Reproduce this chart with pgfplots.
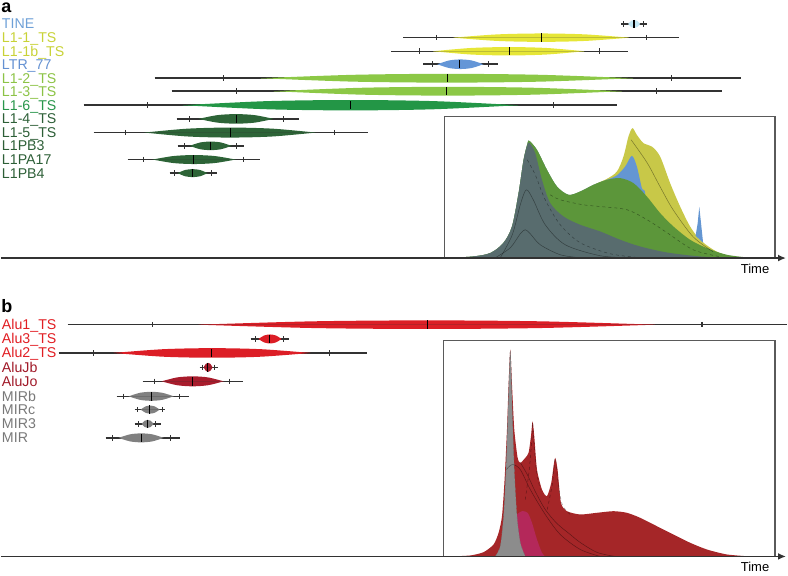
\documentclass[border=0pt]{standalone}
\usepackage{pgfplots}
\pgfplotsset{compat=1.18}
\usepackage{fontspec}
\setmainfont{Liberation Sans}
\usetikzlibrary{arrows.meta}

\definecolor{whiskc}{RGB}{50,50,50}
\definecolor{boxc}{RGB}{90,90,90}
% label colours
\definecolor{labTINE}{RGB}{110,160,215}
\definecolor{labY}{RGB}{200,210,55}
\definecolor{labLTR}{RGB}{100,145,210}
\definecolor{labLG}{RGB}{140,195,70}
\definecolor{labG}{RGB}{40,150,75}
\definecolor{labDG}{RGB}{45,95,55}
\definecolor{labR}{RGB}{225,30,35}
\definecolor{labDR}{RGB}{160,25,40}
\definecolor{labGr}{RGB}{120,120,120}
% lens colours
\definecolor{lensTINE}{RGB}{195,232,245}
\definecolor{lensY}{RGB}{230,230,55}
\definecolor{lensLTR}{RGB}{100,150,215}
\definecolor{lensLG}{RGB}{140,200,70}
\definecolor{lensG}{RGB}{35,150,70}
\definecolor{lensDG}{RGB}{45,100,55}
\definecolor{lensR}{RGB}{220,30,38}
\definecolor{lensDR}{RGB}{168,28,44}
\definecolor{lensGr}{RGB}{128,128,128}
% density colours
\definecolor{dSlate}{RGB}{88,108,110}
\definecolor{dGreen}{RGB}{92,150,58}
\definecolor{dBlue}{RGB}{100,150,210}
\definecolor{dYellow}{RGB}{200,200,72}
\definecolor{dRed}{RGB}{165,38,40}
\definecolor{dMag}{RGB}{180,40,90}
\definecolor{dGray}{RGB}{140,140,140}

\pgfplotsset{
  whisk/.style={draw=whiskc, line width=1.5pt, mark=none},
  sidetick/.style={only marks, mark=|, mark size=2.8pt, mark options={draw=whiskc, line width=1.2pt}},
  centertick/.style={only marks, mark=|, mark size=4.2pt, mark options={draw=black, line width=1.5pt}},
  inner/.style={draw=black, opacity=0.4, line width=0.5pt, smooth, mark=none},
}
\tikzset{
  lab/.style={anchor=west, inner sep=0pt, text height=10pt, text depth=0pt, font=\fontsize{14.2}{15}\selectfont},
}

\newcommand{\rowc}{black}
% #1 y, #2 whisker left, #3 left tick, #4 lens left, #5 centre tick, #6 lens right, #7 right tick, #8 whisker right, #9 half height
\newcommand{\lensrow}[9]{%
  \pgfmathsetmacro{\xa}{#4+0.25*(#6-#4)}%
  \pgfmathsetmacro{\xm}{0.5*(#4+#6)}%
  \pgfmathsetmacro{\xb}{#4+0.75*(#6-#4)}%
  \pgfmathsetmacro{\yta}{#1-0.78*#9}%
  \pgfmathsetmacro{\yt}{#1-#9}%
  \pgfmathsetmacro{\yba}{#1+0.78*#9}%
  \pgfmathsetmacro{\yb}{#1+#9}%
  \edef\tmp{%
    \noexpand\addplot[whisk] coordinates {(#2,#1) (#8,#1)};
    \noexpand\addplot[fill=\rowc, draw=none, smooth, mark=none] coordinates {(#4,#1) (\xa,\yta) (\xm,\yt) (\xb,\yta) (#6,#1)} -- cycle;
    \noexpand\addplot[fill=\rowc, draw=none, smooth, mark=none] coordinates {(#4,#1) (\xa,\yba) (\xm,\yb) (\xb,\yba) (#6,#1)} -- cycle;
    \noexpand\addplot[sidetick] coordinates {(#3,#1) (#7,#1)};
    \noexpand\addplot[centertick] coordinates {(#5,#1)};
  }\tmp}

\begin{document}
\begin{tikzpicture}
\begin{axis}[
  width=788pt, height=576pt, scale only axis,
  xmin=0, xmax=788, ymin=0, ymax=576, y dir=reverse,
  hide axis, clip=false,
]
\addplot[draw=none, mark=none] coordinates {(0,0) (788,576)};

% ---------------- panel a: density inset ----------------
\addplot[fill=dYellow, draw=none, smooth, mark=none] coordinates {
 (450,258) (473,256.7) (490,253.3) (503,243.3) (511.7,226.7) (518.3,193.3) (523.3,160) (527.3,143.3) (529,141)
 (536.7,150) (546.7,170) (556.7,186.7) (568.3,195) (580,191.7) (593.3,185) (606.7,179) (616.7,171.7) (623.3,156.7)
 (628.3,136.7) (632.3,128.3) (636.7,135) (643.3,143.3) (651.7,146.7) (660,156.7) (670,183.3) (680,206.7)
 (690,226.7) (700,240) (713.3,250) (726.7,256) (740,258)} -- cycle;
\addplot[fill=dBlue, draw=none, mark=none] coordinates {
 (695.5,236) (697.5,224) (699.2,207) (701,224) (703,243)} -- cycle;
\addplot[fill=dBlue, draw=none, smooth, mark=none] coordinates {
 (450,258) (473,256.7) (490,253.3) (503,243.3) (511.7,226.7) (518.3,193.3) (523.3,160) (527.3,143.3) (529,141)
 (536.7,150) (546.7,170) (556.7,186.7) (568.3,195) (580,191.7) (593.3,185) (606.7,180) (616.7,175.5)
 (625,166.7) (631.7,156) (636.7,166.7) (641.7,188.3) (645,196) (642,258)} -- cycle;
\addplot[fill=dGreen, draw=none, smooth, mark=none] coordinates {
 (450,258) (473,256.7) (490,253.3) (503,243.3) (511.7,226.7) (518.3,193.3) (523.3,160) (527.3,143.3) (529,141)
 (536.7,150) (546.7,170) (556.7,186.7) (568.3,195) (580,191.7) (593.3,185) (606.7,180) (620,178.3)
 (633.3,183.3) (646.7,196.7) (660,213.3) (673.3,226.7) (690,240) (706.7,248.3) (726.7,255) (750,258)} -- cycle;
\addplot[fill=dSlate, draw=none, smooth, mark=none] coordinates {
 (450,258) (473,256.7) (490,253.3) (503,243.3) (511.7,226.7) (518.3,193.3) (523.3,160) (527.3,144.5) (529.5,143.5)
 (535,153.3) (541.7,180) (550,203.3) (563.3,216.7) (580,225) (600,231.7) (620,240) (640,246.7) (666.7,252.7)
 (700,256.7) (733,258)} -- cycle;
% component lines
\addplot[inner] coordinates {(495,258) (510,248) (520,234) (525,230) (530,234) (540,245) (560,255) (580,258)};
\addplot[inner] coordinates {(500,258) (512,235) (520,205) (526,190) (533,200) (545,225) (565,245) (600,256) (630,258)};
\addplot[inner, dashed] coordinates {(527,160) (535,175) (545,200) (560,225) (580,243) (610,254) (640,258)};
\addplot[inner, dashed] coordinates {(550,195) (560,200) (583,205) (603,207) (627,210) (647,220) (667,233) (693,250) (720,257)};
\addplot[inner] coordinates {(631,140) (647,163) (660,187) (673,210) (693,237) (713,252)};
% box and time axis
\addplot[draw=boxc, line width=1.1pt, mark=none] coordinates {(444,258) (444,117) (775,117) (775,258)};
\addplot[draw=whiskc, line width=1.6pt, mark=none, -{Latex[length=8pt,width=7pt]}] coordinates {(0,258.3) (786,258.3)};
\node[lab, anchor=center, font=\fontsize{13}{15}\selectfont] at (axis cs:755,268.7) {Time};

% ---------------- panel a: rows ----------------
\node[anchor=base west, inner sep=0pt, text height=10pt, font=\fontsize{18}{18}\selectfont\bfseries] at (axis cs:0.5,13) {a};
\renewcommand{\rowc}{lensTINE}\lensrow{24}{621}{623.5}{628}{634}{640}{643}{647}{4}
\renewcommand{\rowc}{lensY}\lensrow{37.7}{403}{436}{453}{541}{629}{646}{679}{4.2}
\renewcommand{\rowc}{lensY}\lensrow{51.3}{391}{419}{433}{509}{584}{599}{628}{4.2}
\renewcommand{\rowc}{lensLTR}\lensrow{64.3}{423}{432}{437}{459}{483}{488}{498}{4.8}
\renewcommand{\rowc}{lensLG}\lensrow{78.3}{154}{223}{260}{447}{633}{671}{741}{4.4}
\renewcommand{\rowc}{lensLG}\lensrow{91.3}{171}{236}{273}{446}{622}{656}{722}{4.4}
\renewcommand{\rowc}{lensG}\lensrow{105.3}{83}{147}{182}{350}{518}{553}{617}{5.2}
\renewcommand{\rowc}{lensDG}\lensrow{119}{176}{189}{198}{236}{273}{283}{298}{4.8}
\renewcommand{\rowc}{lensDG}\lensrow{132.7}{93}{125}{144}{230}{315}{334}{368}{5}
\renewcommand{\rowc}{lensDG}\lensrow{146}{177}{184}{189}{210}{231}{236}{243}{4.3}
\renewcommand{\rowc}{lensDG}\lensrow{159.7}{127}{143}{152}{193}{235}{243}{259}{4.5}
\renewcommand{\rowc}{lensDG}\lensrow{173.3}{169}{174}{177}{192}{207}{211}{216}{4}
\node[lab, text=labTINE] at (axis cs:1,24) {TINE};
\node[lab, text=labY] at (axis cs:1,37.7) {L1-1\_TS};
\node[lab, text=labY] at (axis cs:1,51.3) {L1-1b\_TS};
\node[lab, text=labLTR] at (axis cs:1,64.3) {LTR\_77};
\node[lab, text=labLG] at (axis cs:1,78.3) {L1-2\_TS};
\node[lab, text=labLG] at (axis cs:1,91.3) {L1-3\_TS};
\node[lab, text=labG] at (axis cs:1,105.3) {L1-6\_TS};
\node[lab, text=labDG] at (axis cs:1,119) {L1-4\_TS};
\node[lab, text=labDG] at (axis cs:1,132.7) {L1-5\_TS};
\node[lab, text=labDG] at (axis cs:1,146) {L1PB3};
\node[lab, text=labDG] at (axis cs:1,159.7) {L1PA17};
\node[lab, text=labDG] at (axis cs:1,173.3) {L1PB4};

% ---------------- panel b: density inset ----------------
\addplot[fill=dRed, draw=none, smooth, tension=0.4, mark=none] coordinates {
 (450,557) (470,556) (483.3,552.7) (493.3,545) (498.3,533.3) (501.7,516.7) (504.3,480) (506.7,430) (508.3,385)
 (510,350) (511.7,385) (514,430) (517.3,458) (520,463.3) (525,458.3) (528.3,453.3) (530.7,436.7) (532.3,421.7)
 (534,436.7) (536.7,470) (541.7,490) (546.7,496.7) (551,483.3) (553.3,466.7) (555,458.3) (557.3,470) (560.7,503.3)
 (566.7,511.7) (580,515) (596.7,513.3) (613.3,511.7) (626.7,513.3) (640,518.3) (656.7,526.7) (673.3,535)
 (690,543.3) (706.7,550) (726.7,555) (750,557)} -- cycle;
\addplot[fill=dMag, draw=none, smooth, tension=0.5, mark=none] coordinates {
 (505,557) (510,522) (516.7,515) (521.7,511.7) (527.3,513.3) (531.7,523.3) (536.7,540) (541.7,553.3) (545,557)} -- cycle;
\addplot[fill=dGray, draw=black!55, dashed, line width=0.4pt, smooth, tension=0.4, mark=none] coordinates {
 (495,557) (500,546.7) (503.3,516.7) (505.7,470) (507.7,413.3) (510,352) (512,413.3) (514,470) (516.7,516.7)
 (520,543.3) (525,557)} -- cycle;
\addplot[inner] coordinates {(520,463) (527,475) (535,492) (545,510) (556.7,524) (570,535) (580,543) (597,553) (615,557)};
\addplot[inner, dashed] coordinates {(525,500) (529,470) (531.5,440) (532.3,423) (533.5,440) (536,470) (540,490)};
\addplot[inner, dashed] coordinates {(547,510) (552,485) (555,459) (557.5,480) (562,505) (570,515)};
\addplot[inner] coordinates {(506,470) (512,465) (520,470) (530,490) (545,515) (560,535) (580,550) (600,557)};
\addplot[draw=boxc, line width=1.1pt, mark=none] coordinates {(443,557) (443,341) (775,341) (775,557)};
\addplot[draw=whiskc, line width=1.6pt, mark=none, -{Latex[length=8pt,width=7pt]}] coordinates {(0,557) (786,557)};
\node[lab, anchor=center, font=\fontsize{13}{15}\selectfont] at (axis cs:755,566.7) {Time};

% ---------------- panel b: rows ----------------
\node[anchor=base west, inner sep=0pt, text height=13pt, font=\fontsize{18}{18}\selectfont\bfseries] at (axis cs:0.5,313.3) {b};
\renewcommand{\rowc}{lensR}\lensrow{325}{67}{152}{198}{427}{655}{702}{787}{4.3}
\renewcommand{\rowc}{lensR}\lensrow{339.3}{250}{255}{258}{269}{281}{283}{288}{4.5}
\renewcommand{\rowc}{lensR}\lensrow{353.3}{58}{93}{113}{211}{310}{329}{367}{4.8}
\renewcommand{\rowc}{lensDR}\lensrow{367.7}{199}{202}{203}{207}{212}{214}{217}{4.5}
\renewcommand{\rowc}{lensDR}\lensrow{381.7}{142}{154}{161}{192}{223}{229}{242}{5}
\renewcommand{\rowc}{lensGr}\lensrow{396.7}{116}{123}{128}{151}{173}{179}{188}{4.5}
\renewcommand{\rowc}{lensGr}\lensrow{410}{134}{137}{140}{149}{159}{162}{164}{4}
\renewcommand{\rowc}{lensGr}\lensrow{424.3}{134}{138}{141}{147}{153}{155}{160}{4}
\renewcommand{\rowc}{lensGr}\lensrow{438.3}{105}{112}{118}{141}{163}{170}{179}{4.5}
\node[lab, text=labR] at (axis cs:1,325) {Alu1\_TS};
\node[lab, text=labR] at (axis cs:1,339.3) {Alu3\_TS};
\node[lab, text=labR] at (axis cs:1,353.3) {Alu2\_TS};
\node[lab, text=labDR] at (axis cs:1,367.7) {AluJb};
\node[lab, text=labDR] at (axis cs:1,381.7) {AluJo};
\node[lab, text=labGr] at (axis cs:1,396.7) {MIRb};
\node[lab, text=labGr] at (axis cs:1,410) {MIRc};
\node[lab, text=labGr] at (axis cs:1,424.3) {MIR3};
\node[lab, text=labGr] at (axis cs:1,438.3) {MIR};
\end{axis}
\end{tikzpicture}
\end{document}
